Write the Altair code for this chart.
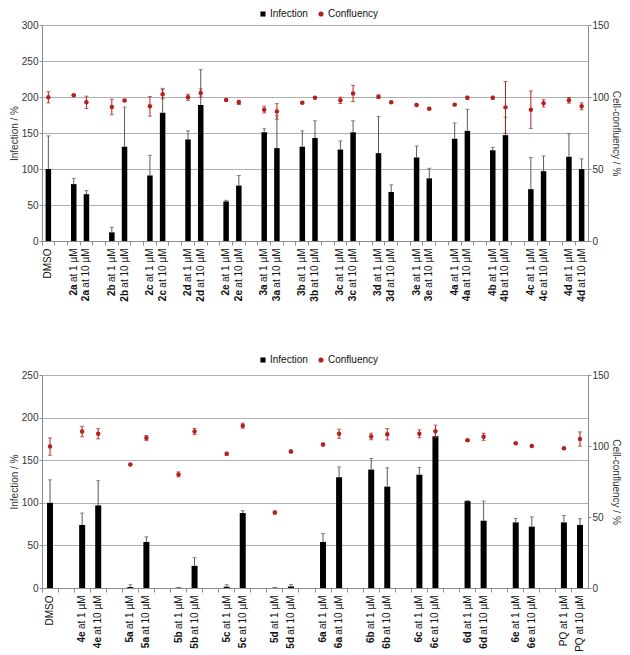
import altair as alt
import pandas as pd

FONT = "Liberation Sans"
RED = "#b3211e"
ERR_GREY = "#5a5a5a"
AXIS_GREY = "#8c8c8c"
GRID_GREY = "#b0b0b0"

# ---------------- top panel ----------------
top_labels = ["DMSO",
              "2a at 1 µM", "2a at 10 µM", "2b at 1 µM", "2b at 10 µM",
              "2c at 1 µM", "2c at 10 µM", "2d at 1 µM", "2d at 10 µM",
              "2e at 1 µM", "2e at 10 µM", "3a at 1 µM", "3a at 10 µM",
              "3b at 1 µM", "3b at 10 µM", "3c at 1 µM", "3c at 10 µM",
              "3d at 1 µM", "3d at 10 µM", "3e at 1 µM", "3e at 10 µM",
              "4a at 1 µM", "4a at 10 µM", "4b at 1 µM", "4b at 10 µM",
              "4c at 1 µM", "4c at 10 µM", "4d at 1 µM", "4d at 10 µM"]
top_infection = [100, 79, 65, 12, 131, 91, 178, 141, 189, 55, 77, 151, 129, 131, 143,
                 127, 151, 122, 68, 116, 87, 142, 153, 126, 147, 72, 97, 117, 100]
top_infection_err = [46, 8, 5, 7, 55, 28, 34, 12, 49, 1.5, 14, 5, 45, 22, 24,
                     12, 16, 51, 10, 16, 14, 22, 30, 4, 25, 44, 21, 32, 14]
top_confluency = [99.8, 101.2, 96.3, 93.1, 97.5, 93.5, 101.9, 99.8, 102.8, 97.9, 96.3,
                  91.2, 90.0, 96.0, 99.5, 97.7, 102.5, 100.2, 96.3, 94.4, 91.9,
                  94.7, 99.5, 99.5, 92.8, 91.2, 95.6, 97.7, 93.5]
top_confluency_err = [3.9, 0.5, 4.3, 5.4, 0.5, 6.8, 3.2, 2.1, 2.8, 0.5, 1.5,
                      2.3, 5.4, 0.5, 0.5, 2.2, 5.6, 1.2, 0.5, 0.5, 0.5,
                      0.5, 1.0, 1.0, 18.0, 13.0, 2.5, 2.0, 2.4]

# ---------------- bottom panel ----------------
bot_labels = ["DMSO",
              "4e at 1 µM", "4e at 10 µM", "5a at 1 µM", "5a at 10 µM",
              "5b at 1 µM", "5b at 10 µM", "5c at 1 µM", "5c at 10 µM",
              "5d at 1 µM", "5d at 10 µM", "6a at 1 µM", "6a at 10 µM",
              "6b at 1 µM", "6b at 10 µM", "6c at 1 µM", "6c at 10 µM",
              "6d at 1 µM", "6d at 10 µM", "6e at 1 µM", "6e at 10 µM",
              "PQ at 1 µM", "PQ at 10 µM"]
bot_infection = [100, 74, 97, 1.2, 54, 0.4, 26, 1.5, 88, 0.3, 1.9, 54, 130,
                 139, 119, 133, 178, 102, 79, 77, 72, 77, 74]
bot_infection_err = [27, 14, 29, 2.6, 6, 0.3, 9.6, 2.3, 2.7, 0.3, 2.3, 10, 12,
                     13, 22, 8.5, 6.5, 0.5, 23, 4.6, 11.5, 8, 7.3]
bot_confluency = [99.6, 110.2, 108.6, 86.9, 105.6, 80.0, 110.2, 94.5, 114.3, 53.1,
                  96.1, 101.0, 108.6, 106.7, 108.3, 108.6, 110.4, 104.0, 106.5,
                  101.9, 100.0, 98.4, 104.9]
bot_confluency_err = [6.1, 3.7, 3.6, 0.5, 1.8, 1.8, 2.2, 1.0, 1.8, 1.0, 1.0, 1.0,
                      3.2, 2.3, 4.0, 2.8, 4.3, 0.5, 2.5, 0.5, 0.5, 0.5, 5.0]

series_names = ["Infection", "Confluency"]

LABEL_SIZE = 10
# advance widths (Arial / Liberation Sans metrics) used to place the bold prefix
SUFFIX_1 = 36.4    # " at 1 µM" incl. leading space
SUFFIX_10 = 42.0   # " at 10 µM"
LABEL_OFFSET = 7   # tick size + label padding


def make_domain(labels):
    dom = [labels[0]]
    g = 0
    for i in range(1, len(labels), 2):
        dom.append(f"gap{g}")
        g += 1
        dom.extend(labels[i:i + 2])
    return dom


def panel(labels, inf, inf_err, conf, conf_err, left_max, right_max,
          width, height, bar_size, legend_y):
    df = pd.DataFrame({
        "label": labels,
        "inf": inf,
        "inf_hi": [v + e for v, e in zip(inf, inf_err)],
        "conf": conf,
        "conf_lo": [v - e for v, e in zip(conf, conf_err)],
        "conf_hi": [v + e for v, e in zip(conf, conf_err)],
    })
    df["s_inf"] = "Infection"
    df["s_conf"] = "Confluency"
    df["prefix"] = df["label"].str.split(" ").str[0]
    df["dose"] = df["label"].str.extract(r"at (\d+) ")[0].fillna("")

    domain = make_domain(labels)
    label_expr = ("test(/^gap/, datum.value) ? '' : "
                  "(test(/^(DMSO|PQ)/, datum.value) ? datum.value : "
                  "substring(datum.value, indexof(datum.value, ' ') + 1))")
    xaxis = alt.Axis(labelExpr=label_expr, labelAngle=270,
                     labelFontSize=LABEL_SIZE, labelColor="#111111",
                     labelFont=FONT, labelPadding=3, tickSize=4,
                     bandPosition=0, tickColor=AXIS_GREY,
                     domainColor=AXIS_GREY, grid=False)
    xenc = alt.X("label:N", title=None,
                 scale=alt.Scale(domain=domain, paddingInner=0, paddingOuter=0),
                 axis=xaxis)

    color_scale = alt.Scale(domain=series_names, range=["#000000", RED])
    shape_scale = alt.Scale(domain=series_names, range=["square", "circle"])

    lscale = alt.Scale(domain=[0, left_max], nice=False)
    rscale = alt.Scale(domain=[0, right_max], nice=False)

    laxis = alt.Axis(values=list(range(0, left_max + 1, 50)),
                     grid=True, gridColor=GRID_GREY, gridWidth=1,
                     domainColor=AXIS_GREY, tickColor=AXIS_GREY, tickSize=3,
                     labelPadding=1, titlePadding=2,
                     labelFontSize=10, titleFontSize=10,
                     labelColor="#333333", titleColor="#333333",
                     titleFontWeight="normal", labelFont=FONT, titleFont=FONT)
    raxis = alt.Axis(orient="right",
                     values=list(range(0, right_max + 1, 50)), grid=False,
                     domainColor=AXIS_GREY, tickColor=AXIS_GREY, tickSize=3,
                     labelPadding=1, titlePadding=2,
                     labelFontSize=10, titleFontSize=10,
                     labelColor="#333333", titleColor="#333333",
                     titleFontWeight="normal", labelFont=FONT, titleFont=FONT)
    LT = "Infection / %"
    RT = "Cell-confluency / %"

    base = alt.Chart(df)

    bars = base.mark_bar(size=bar_size).encode(
        x=xenc,
        y=alt.Y("inf:Q", scale=lscale, axis=laxis, title=LT),
        color=alt.Color("s_inf:N", scale=color_scale, title=None,
                        legend=alt.Legend(orient="none", direction="horizontal",
                                          legendX=width / 2 - 57, legendY=legend_y,
                                          labelFontSize=10, labelFont=FONT,
                                          labelColor="#111111", symbolSize=26,
                                          symbolStrokeWidth=0, columnPadding=8,
                                          labelOffset=2)),
        shape=alt.Shape("s_inf:N", scale=shape_scale, title=None),
    )
    bar_err = base.mark_rule(color=ERR_GREY, strokeWidth=1).encode(
        x=xenc, y=alt.Y("inf:Q", scale=lscale, axis=laxis, title=LT), y2="inf_hi:Q")
    bar_cap = base.mark_tick(color=ERR_GREY, thickness=1, size=4).encode(
        x=xenc, y=alt.Y("inf_hi:Q", scale=lscale, axis=laxis, title=LT))

    pre1 = base.transform_filter(
        "indexof(['DMSO','PQ'], datum.prefix) < 0 && datum.dose == '1'"
    ).mark_text(angle=270, align="right", baseline="middle", fontWeight="bold",
                fontSize=LABEL_SIZE, font=FONT, color="#111111").encode(
        x=xenc, y=alt.value(height + LABEL_OFFSET + SUFFIX_1), text="prefix:N")
    pre10 = base.transform_filter(
        "indexof(['DMSO','PQ'], datum.prefix) < 0 && datum.dose == '10'"
    ).mark_text(angle=270, align="right", baseline="middle", fontWeight="bold",
                fontSize=LABEL_SIZE, font=FONT, color="#111111").encode(
        x=xenc, y=alt.value(height + LABEL_OFFSET + SUFFIX_10), text="prefix:N")

    left = alt.layer(bars, bar_err, bar_cap, pre1, pre10)

    pts = base.mark_point(filled=True, size=20, opacity=1).encode(
        x=xenc,
        y=alt.Y("conf:Q", scale=rscale, axis=raxis, title=RT),
        color=alt.Color("s_conf:N", scale=color_scale, title=None),
        shape=alt.Shape("s_conf:N", scale=shape_scale, title=None),
    )
    conf_err = base.mark_rule(color=RED, strokeWidth=1).encode(
        x=xenc, y=alt.Y("conf_lo:Q", scale=rscale, axis=raxis, title=RT), y2="conf_hi:Q")
    cap_lo = base.mark_tick(color=RED, thickness=1, size=4).encode(
        x=xenc, y=alt.Y("conf_lo:Q", scale=rscale, axis=raxis, title=RT))
    cap_hi = base.mark_tick(color=RED, thickness=1, size=4).encode(
        x=xenc, y=alt.Y("conf_hi:Q", scale=rscale, axis=raxis, title=RT))
    right = alt.layer(conf_err, cap_lo, cap_hi, pts)

    return alt.layer(left, right).resolve_scale(y="independent").properties(
        width=width, height=height)


top = panel(top_labels, top_infection, top_infection_err, top_confluency,
            top_confluency_err, 300, 150, 546, 216, 5.5, -16)
bottom = panel(bot_labels, bot_infection, bot_infection_err, bot_confluency,
               bot_confluency_err, 250, 150, 546, 213, 6, -20)

chart = alt.vconcat(top, bottom, spacing=51).resolve_scale(
    x="independent", color="independent", shape="independent"
).resolve_legend(color="independent", shape="independent").properties(
    padding=0
).configure_view(strokeWidth=0).configure(font=FONT)

chart.save("out.html", embed_options={"renderer": "svg", "actions": False})
